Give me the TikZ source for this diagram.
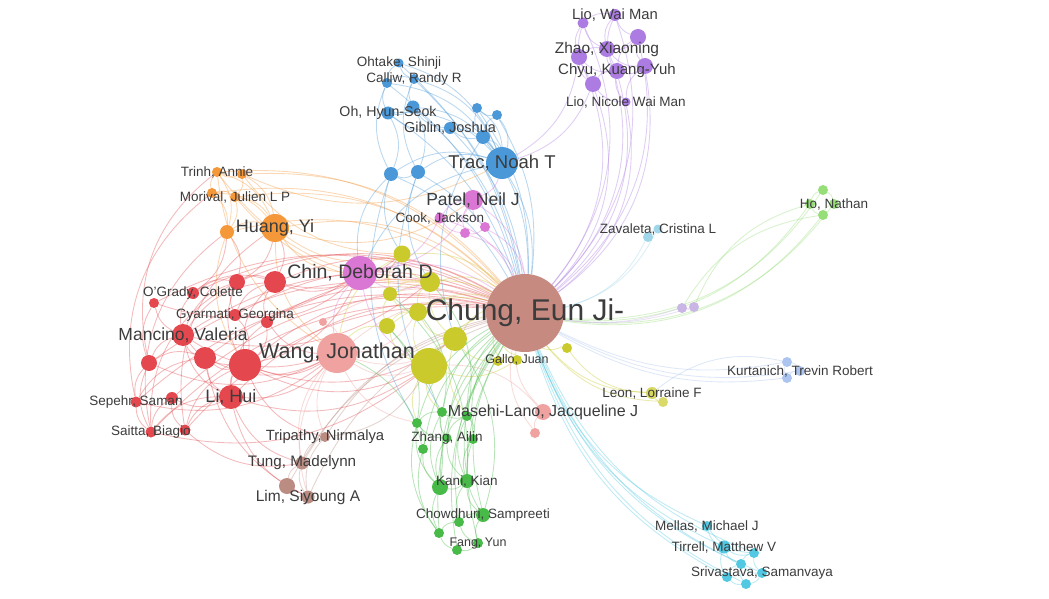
\documentclass[tikz,border=0pt]{standalone}
\usepackage{fontspec}
\setmainfont{Liberation Sans}
\pgfdeclarelayer{bg}
\pgfsetlayers{bg,main}
\definecolor{chungc}{RGB}{198,138,128}
\definecolor{redc}{RGB}{228,72,78}
\definecolor{orangec}{RGB}{245,152,58}
\definecolor{pinkc}{RGB}{218,118,212}
\definecolor{salmonc}{RGB}{240,162,160}
\definecolor{bluec}{RGB}{74,152,216}
\definecolor{purplec}{RGB}{172,124,226}
\definecolor{yellowc}{RGB}{202,202,44}
\definecolor{greenc}{RGB}{72,186,72}
\definecolor{lgreenc}{RGB}{150,222,120}
\definecolor{lavc}{RGB}{202,182,228}
\definecolor{zavc}{RGB}{160,214,234}
\definecolor{kurc}{RGB}{172,196,240}
\definecolor{cyanc}{RGB}{82,200,226}
\definecolor{brownc}{RGB}{186,140,130}
\definecolor{labgray}{RGB}{60,60,60}
\newcommand{\lsz}[1]{\fontsize{#1}{#1}\selectfont}
\tikzset{
  ball/.style={circle,inner sep=0pt,fill=#1},
  edge/.style={draw=#1,line width=0.85pt,draw opacity=0.38},
  lab/.style={text=labgray,inner sep=0pt},
}

\begin{document}
\begin{tikzpicture}[x=1pt,y=-1pt]
  \useasboundingbox (0,0) rectangle (1049,599);
  % main author
  \node[ball=chungc,minimum size=78] (ch) at (525,313) {};
  % red cluster
  \node[ball=redc,minimum size=22] (r1) at (275,282) {};
  \node[ball=redc,minimum size=16] (r2) at (237,282) {};
  \node[ball=redc,minimum size=10] (r3) at (154,303) {};
  \node[ball=redc,minimum size=12] (ogrady) at (193,293) {};
  \node[ball=redc,minimum size=12] (gyarmati) at (235,315) {};
  \node[ball=redc,minimum size=12] (r4) at (267,322) {};
  \node[ball=redc,minimum size=22] (mancino) at (183,335) {};
  \node[ball=redc,minimum size=22] (r5) at (205,358) {};
  \node[ball=redc,minimum size=32] (r6) at (245,365) {};
  \node[ball=redc,minimum size=16] (r7) at (149,363) {};
  \node[ball=redc,minimum size=24] (lihui) at (231,397) {};
  \node[ball=redc,minimum size=11] (sepehr) at (136,402) {};
  \node[ball=redc,minimum size=12] (r8) at (172,398) {};
  \node[ball=redc,minimum size=11] (saitta) at (151,432) {};
  \node[ball=redc,minimum size=11] (r9) at (185,430) {};
  % orange cluster
  \node[ball=orangec,minimum size=28] (huang) at (275,228) {};
  \node[ball=orangec,minimum size=14] (o1) at (227,232) {};
  \node[ball=orangec,minimum size=10] (trinh) at (217,172) {};
  \node[ball=orangec,minimum size=10] (o2) at (242,174) {};
  \node[ball=orangec,minimum size=10] (o3) at (212,193) {};
  \node[ball=orangec,minimum size=10] (morival) at (235,197) {};
  % pink cluster
  \node[ball=pinkc,minimum size=34] (chin) at (360,273) {};
  \node[ball=pinkc,minimum size=20] (patel) at (473,200) {};
  \node[ball=pinkc,minimum size=11] (cook) at (440,218) {};
  \node[ball=pinkc,minimum size=10] (pk1) at (465,233) {};
  \node[ball=pinkc,minimum size=10] (pk2) at (485,227) {};
  % salmon cluster
  \node[ball=salmonc,minimum size=40] (wang) at (337,353) {};
  \node[ball=salmonc,minimum size=8] (sm2) at (323,322) {};
  \node[ball=salmonc,minimum size=16] (masehi) at (543,412) {};
  \node[ball=salmonc,minimum size=10] (sm1) at (535,433) {};
  % blue cluster
  \node[ball=bluec,minimum size=32] (trac) at (502,163) {};
  \node[ball=bluec,minimum size=9] (ohtake) at (399,63) {};
  \node[ball=bluec,minimum size=10] (b1) at (387,83) {};
  \node[ball=bluec,minimum size=10] (calliw) at (414,79) {};
  \node[ball=bluec,minimum size=13] (ohhyun) at (388,113) {};
  \node[ball=bluec,minimum size=13] (b2) at (413,107) {};
  \node[ball=bluec,minimum size=10] (b3) at (477,108) {};
  \node[ball=bluec,minimum size=10] (b4) at (497,115) {};
  \node[ball=bluec,minimum size=12] (giblin) at (450,128) {};
  \node[ball=bluec,minimum size=14] (b5) at (483,137) {};
  \node[ball=bluec,minimum size=14] (b6) at (391,174) {};
  \node[ball=bluec,minimum size=14] (b7) at (418,172) {};
  % purple cluster
  \node[ball=purplec,minimum size=11] (p1) at (583,23) {};
  \node[ball=purplec,minimum size=12] (liowai) at (615,15) {};
  \node[ball=purplec,minimum size=16] (p2) at (638,37) {};
  \node[ball=purplec,minimum size=16] (zhao) at (607,49) {};
  \node[ball=purplec,minimum size=16] (p3) at (579,57) {};
  \node[ball=purplec,minimum size=16] (p4) at (645,66) {};
  \node[ball=purplec,minimum size=16] (chyu) at (617,71) {};
  \node[ball=purplec,minimum size=16] (p5) at (593,84) {};
  \node[ball=purplec,minimum size=9] (lionicole) at (626,102) {};
  % yellow cluster
  \node[ball=yellowc,minimum size=17] (y1) at (402,254) {};
  \node[ball=yellowc,minimum size=20] (y2) at (430,282) {};
  \node[ball=yellowc,minimum size=14] (y3) at (390,294) {};
  \node[ball=yellowc,minimum size=18] (y4) at (418,312) {};
  \node[ball=yellowc,minimum size=16] (y5) at (387,326) {};
  \node[ball=yellowc,minimum size=24] (y6) at (455,339) {};
  \node[ball=yellowc,minimum size=36] (y7) at (429,366) {};
  \node[ball=yellowc,minimum size=10] (y8) at (498,361) {};
  \node[ball=yellowc,minimum size=10] (gallo) at (517,360) {};
  \node[ball=yellowc,minimum size=10] (y9) at (567,348) {};
  \node[ball=yellowc!75!white,minimum size=12] (leon) at (652,393) {};
  \node[ball=yellowc!70!white,minimum size=10] (y10) at (663,402) {};
  % green cluster
  \node[ball=greenc,minimum size=10] (g1) at (442,412) {};
  \node[ball=greenc,minimum size=10] (g2) at (467,416) {};
  \node[ball=greenc,minimum size=10] (g3) at (417,423) {};
  \node[ball=greenc,minimum size=9] (zhang) at (447,438) {};
  \node[ball=greenc,minimum size=10] (g11) at (473,439) {};
  \node[ball=greenc,minimum size=10] (g12) at (423,449) {};
  \node[ball=greenc,minimum size=16] (g4) at (440,487) {};
  \node[ball=greenc,minimum size=14] (kani) at (467,481) {};
  \node[ball=greenc,minimum size=14] (chowdhuri) at (483,515) {};
  \node[ball=greenc,minimum size=10] (g5) at (459,522) {};
  \node[ball=greenc,minimum size=10] (g6) at (439,533) {};
  \node[ball=greenc,minimum size=10] (fang) at (478,543) {};
  \node[ball=greenc,minimum size=10] (g7) at (457,550) {};
  % small groups on the right
  \node[ball=lgreenc,minimum size=10] (g8) at (823,190) {};
  \node[ball=lgreenc,minimum size=10] (g9) at (810,204) {};
  \node[ball=lgreenc,minimum size=10] (hon) at (834,204) {};
  \node[ball=lgreenc,minimum size=10] (g10) at (823,215) {};
  \node[ball=lavc,minimum size=10] (lv1) at (682,308) {};
  \node[ball=lavc,minimum size=10] (lv2) at (694,307) {};
  \node[ball=zavc,minimum size=10] (zv1) at (648,237) {};
  \node[ball=zavc,minimum size=9] (zav) at (658,229) {};
  \node[ball=kurc,minimum size=10] (ku1) at (787,362) {};
  \node[ball=kurc,minimum size=10] (kur) at (800,371) {};
  \node[ball=kurc,minimum size=10] (ku2) at (787,378) {};
  % cyan cluster
  \node[ball=cyanc,minimum size=10] (mellas) at (707,526) {};
  \node[ball=cyanc,minimum size=13] (tirrell) at (724,547) {};
  \node[ball=cyanc,minimum size=10] (c1) at (754,553) {};
  \node[ball=cyanc,minimum size=10] (c2) at (741,564) {};
  \node[ball=cyanc,minimum size=10] (srivastava) at (762,573) {};
  \node[ball=cyanc,minimum size=10] (c3) at (727,577) {};
  \node[ball=cyanc,minimum size=10] (c4) at (746,584) {};
  % brown cluster
  \node[ball=brownc,minimum size=10] (tripathy) at (325,437) {};
  \node[ball=brownc,minimum size=13] (tung) at (302,463) {};
  \node[ball=brownc,minimum size=16] (br1) at (287,486) {};
  \node[ball=brownc,minimum size=13] (lim) at (308,497) {};

  % labels
  \node[lab,font=\lsz{30}] (ch-t) at (ch) {Chung, Eun Ji-};
  \node[lab,font=\lsz{21.5}] (wang-t) at (wang) {Wang, Jonathan};
  \node[lab,font=\lsz{19.5}] (chin-t) at (chin) {Chin, Deborah D};
  \node[lab,font=\lsz{18.5}] (trac-t) at (trac) {Trac, Noah T};
  \node[lab,font=\lsz{17.5}] (patel-t) at (patel) {Patel, Neil J};
  \node[lab,font=\lsz{18}] (huang-t) at (huang) {Huang, Yi};
  \node[lab,font=\lsz{17.5}] (mancino-t) at (mancino) {Mancino, Valeria};
  \node[lab,font=\lsz{18}] (lihui-t) at (lihui) {Li, Hui};
  \node[lab,font=\lsz{16}] (masehi-t) at (masehi) {Masehi-Lano, Jacqueline J};
  \node[lab,font=\lsz{15.5}] (zhao-t) at (zhao) {Zhao, Xiaoning};
  \node[lab,font=\lsz{15}] (chyu-t) at (chyu) {Chyu, Kuang-Yuh};
  \node[lab,font=\lsz{14.2}] (ohhyun-t) at (ohhyun) {Oh, Hyun-Seok};
  \node[lab,font=\lsz{14.5}] (giblin-t) at (giblin) {Giblin, Joshua};
  \node[lab,font=\lsz{15.2}] (tung-t) at (tung) {Tung, Madelynn};
  \node[lab,font=\lsz{15.5}] (lim-t) at (lim) {Lim, Siyoung A};
  \node[lab,font=\lsz{14.8}] (tripathy-t) at (tripathy) {Tripathy, Nirmalya};
  \node[lab,font=\lsz{14.8}] (liowai-t) at (liowai) {Lio, Wai Man};
  \node[lab,font=\lsz{13.5}] (lionicole-t) at (lionicole) {Lio, Nicole Wai Man};
  \node[lab,font=\lsz{13.5}] (ohtake-t) at (ohtake) {Ohtake, Shinji};
  \node[lab,font=\lsz{13.5}] (calliw-t) at (calliw) {Calliw, Randy R};
  \node[lab,font=\lsz{13.5}] (cook-t) at (cook) {Cook, Jackson};
  \node[lab,font=\lsz{13.5}] (trinh-t) at (trinh) {Trinh, Annie};
  \node[lab,font=\lsz{13.5}] (morival-t) at (morival) {Morival, Julien L P};
  \node[lab,font=\lsz{13.5}] (ogrady-t) at (ogrady) {O'Grady, Colette};
  \node[lab,font=\lsz{13.5}] (gyarmati-t) at (gyarmati) {Gyarmati, Georgina};
  \node[lab,font=\lsz{13.5}] (sepehr-t) at (sepehr) {Sepehr, Saman};
  \node[lab,font=\lsz{13.5}] (saitta-t) at (saitta) {Saitta, Biagio};
  \node[lab,font=\lsz{12.5}] (gallo-t) at (gallo) {Gallo, Juan};
  \node[lab,font=\lsz{13.5}] (zhang-t) at (zhang) {Zhang, Ailin};
  \node[lab,font=\lsz{13.5}] (kani-t) at (kani) {Kani, Kian};
  \node[lab,font=\lsz{13.5}] (chowdhuri-t) at (chowdhuri) {Chowdhuri, Sampreeti};
  \node[lab,font=\lsz{12.5}] (fang-t) at (fang) {Fang, Yun};
  \node[lab,font=\lsz{13.5}] (zav-t) at (zav) {Zavaleta, Cristina L};
  \node[lab,font=\lsz{13.5}] (hon-t) at (hon) {Ho, Nathan};
  \node[lab,font=\lsz{13.5}] (kur-t) at (kur) {Kurtanich, Trevin Robert};
  \node[lab,font=\lsz{13.5}] (leon-t) at (leon) {Leon, Lorraine F};
  \node[lab,font=\lsz{13.5}] (mellas-t) at (mellas) {Mellas, Michael J};
  \node[lab,font=\lsz{13.5}] (tirrell-t) at (tirrell) {Tirrell, Matthew V};
  \node[lab,font=\lsz{13.5}] (srivastava-t) at (srivastava) {Srivastava, Samanvaya};

  \begin{pgfonlayer}{bg}
    \fill[white] (0,0) rectangle (1049,599);
    % links of the main author
    \foreach \b in {r1,r2,r3,ogrady,gyarmati,r4,mancino,r5,r6,r7,lihui,sepehr,r8,saitta,r9}
      \draw[edge=redc] (ch) to[bend right=26] (\b);
    \foreach \b in {huang,o1,trinh,o2,o3,morival}
      \draw[edge=orangec] (ch) to[bend right=26] (\b);
    \foreach \b in {chin,patel,cook,pk1,pk2}
      \draw[edge=pinkc] (ch) to[bend right=24] (\b);
    \foreach \b in {wang,sm2,masehi,sm1}
      \draw[edge=salmonc] (ch) to[bend right=24] (\b);
    \foreach \b in {trac,ohtake,b1,calliw,ohhyun,b2,b3,b4,giblin,b5,b6,b7}
      \draw[edge=bluec] (ch) to[bend right=18] (\b);
    \foreach \b in {p1,liowai,p2,zhao,p3,p4,chyu,p5,lionicole}
      \draw[edge=purplec] (ch) to[bend right=32] (\b);
    \foreach \b in {y1,y2,y3,y4,y5,y6,y7,y8,gallo,y9,leon,y10}
      \draw[edge=yellowc] (ch) to[bend right=24] (\b);
    \foreach \b in {g1,g2,g3,zhang,g11,g12,g4,kani,chowdhuri,g5,g6,fang,g7}
      \draw[edge=greenc] (ch) to[bend right=22] (\b);
    \foreach \b in {g8,g9,hon,g10}
      \draw[edge=lgreenc] (ch) to[bend right=30] (\b);
    \foreach \b in {lv1,lv2}
      \draw[edge=lavc] (ch) to[bend right=12] (\b);
    \foreach \b in {zv1,zav}
      \draw[edge=zavc] (ch) to[bend right=24] (\b);
    \foreach \b in {ku1,kur,ku2}
      \draw[edge=kurc] (ch) to[bend right=18] (\b);
    \foreach \b in {mellas,tirrell,c1,c2,srivastava,c3,c4}
      \draw[edge=cyanc] (ch) to[bend right=22] (\b);
    \foreach \b in {tripathy,tung,br1,lim}
      \draw[edge=brownc] (ch) to[bend right=22] (\b);
    % red links
    \foreach \a/\b in {r1/r2,r1/ogrady,r1/gyarmati,r1/r4,r1/r6,r1/mancino,r2/ogrady,r2/gyarmati,
        r2/r6,r2/mancino,ogrady/mancino,r3/mancino,r3/r7,mancino/r5,mancino/r6,mancino/r7,
        mancino/lihui,r5/r6,r5/r7,r5/lihui,r5/sepehr,r6/lihui,r6/gyarmati,r6/r4,r7/sepehr,
        r7/saitta,r8/lihui,r8/saitta,r8/r9,sepehr/saitta,lihui/r9,lihui/saitta,r6/r9,r4/lihui,
        r1/huang,r2/huang,r6/wang,lihui/wang,mancino/wang,r1/chin,r6/chin,r5/wang,r4/wang,
        gyarmati/chin,r6/y7,lihui/y7,mancino/y2,r1/y1,r2/o1,ogrady/o1,r6/tripathy,lihui/tung,
        r5/lim,lihui/lim,r6/y6,r7/wang,sepehr/wang,saitta/y7,r9/tung,r3/chin}
      \draw[edge=redc] (\a) to[bend right=25] (\b);
    \foreach \a/\b in {saitta/o1,sepehr/o3,r7/trinh,r9/huang,saitta/r2}
      \draw[edge=redc] (\a) to[bend left=32] (\b);
    % orange links
    \foreach \a/\b in {huang/o1,huang/trinh,huang/o2,huang/morival,huang/o3,trinh/o2,trinh/o3,
        morival/o3,morival/o2,o1/trinh,o1/morival,o1/o3,huang/chin,huang/wang,huang/y1,o1/r6,
        trinh/wang,o2/trac,huang/patel,morival/y2,trinh/y2,o2/y1}
      \draw[edge=orangec] (\a) to[bend right=25] (\b);
    % pink links
    \foreach \a/\b in {patel/cook,patel/pk1,patel/pk2,cook/pk1,pk1/pk2,chin/patel,chin/wang,
        chin/y2,chin/y1,patel/trac,chin/cook,chin/y7}
      \draw[edge=pinkc] (\a) to[bend right=25] (\b);
    % salmon links
    \foreach \a/\b in {wang/y7,wang/y4,wang/y6,wang/tripathy,wang/tung,wang/sm2,masehi/sm1,
        masehi/y7,wang/g3,wang/lim}
      \draw[edge=salmonc] (\a) to[bend right=25] (\b);
    % blue links
    \foreach \a/\b in {trac/ohtake,trac/calliw,trac/b1,trac/ohhyun,trac/b2,trac/giblin,trac/b3,
        trac/b4,trac/b5,trac/b6,trac/b7,ohtake/calliw,ohtake/b1,calliw/b1,b1/ohhyun,calliw/b2,
        ohhyun/b2,b2/giblin,ohhyun/giblin,giblin/b5,b3/b4,b3/b5,b4/b5,b6/b7,b6/ohhyun,b7/b2,
        b6/y1,b7/y2,b6/chin,b6/g3,b7/g1,b1/b6,calliw/b7,trac/chin,b5/y6}
      \draw[edge=bluec] (\a) to[bend right=25] (\b);
    % purple links
    \foreach \a/\b in {liowai/p1,liowai/p2,liowai/zhao,p1/p3,p1/zhao,zhao/p3,zhao/p2,zhao/chyu,
        zhao/p4,p2/p4,p2/chyu,p3/p5,p3/chyu,chyu/p4,chyu/p5,chyu/lionicole,p5/lionicole,
        p4/lionicole,liowai/chyu,p1/p5,trac/p3,trac/p5}
      \draw[edge=purplec] (\a) to[bend right=25] (\b);
    % yellow links
    \foreach \a/\b in {y1/y2,y2/y3,y2/y4,y3/y4,y3/y5,y4/y5,y4/y6,y5/y7,y6/y7,y4/y7,y2/y6,
        gallo/y8,y7/gallo,y6/y8,leon/y10,y9/leon,y7/g1,y7/g3,y6/g2,y1/y3,y1/wang,y5/wang}
      \draw[edge=yellowc] (\a) to[bend right=25] (\b);
    % green links
    \foreach \a/\b in {g1/g2,g1/g3,g1/zhang,g3/zhang,g2/zhang,zhang/g4,zhang/kani,g3/g4,
        g4/kani,kani/chowdhuri,g4/g6,kani/g5,chowdhuri/g5,chowdhuri/fang,g5/g6,g6/g7,g7/fang,
        g5/fang,g2/kani,g1/g4,g3/g6,g11/kani,g12/g4,g11/chowdhuri,g12/g6,g1/y4,g4/y5,kani/y3,
        g2/y2,g3/y5,g12/wang,chowdhuri/y6,g11/g2,g12/g3}
      \draw[edge=greenc] (\a) to[bend right=25] (\b);
    % small groups
    \foreach \a/\b in {hon/g8,hon/g10,g8/g9,g9/g10,g9/lv2,g10/lv1}
      \draw[edge=lgreenc] (\a) to[bend right=25] (\b);
    \draw[edge=lavc] (lv1) to[bend right=25] (lv2);
    \draw[edge=zavc] (zav) to[bend right=25] (zv1);
    \foreach \a/\b in {kur/ku1,kur/ku2,ku1/ku2,ku1/leon}
      \draw[edge=kurc] (\a) to[bend right=25] (\b);
    \foreach \a/\b in {mellas/tirrell,tirrell/c1,tirrell/c2,tirrell/c3,c1/c2,c1/srivastava,
        c2/srivastava,c2/c3,c3/c4,c4/srivastava,c2/c4,mellas/c1}
      \draw[edge=cyanc] (\a) to[bend right=25] (\b);
    \foreach \a/\b in {tripathy/tung,tung/br1,tung/lim,br1/lim,tripathy/lim,tripathy/y7}
      \draw[edge=brownc] (\a) to[bend right=25] (\b);
  \end{pgfonlayer}
\end{tikzpicture}
\end{document}
